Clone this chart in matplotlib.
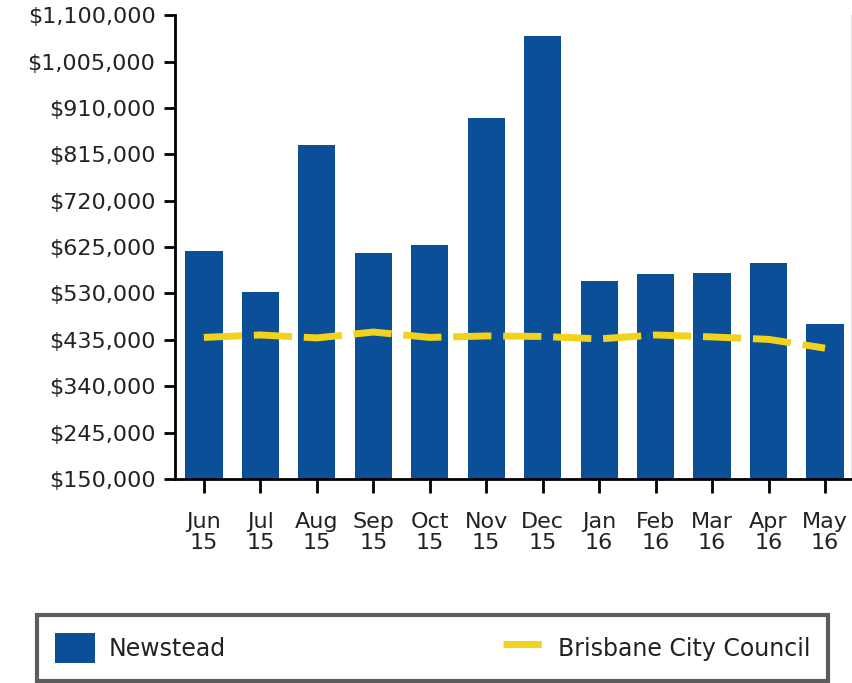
import numpy as np
import matplotlib
matplotlib.use("Agg")
import matplotlib.pyplot as plt
from matplotlib.ticker import FuncFormatter

months = ["Jun\n15", "Jul\n15", "Aug\n15", "Sep\n15", "Oct\n15", "Nov\n15",
          "Dec\n15", "Jan\n16", "Feb\n16", "Mar\n16", "Apr\n16", "May\n16"]
newstead = [617000, 533000, 834000, 613000, 630000, 890000,
            1057000, 555000, 570000, 571000, 592000, 467000]
brisbane = [440000, 445000, 439000, 451000, 440000, 443000,
            442000, 437000, 445000, 441000, 436000, 418000]
yticks = [150000, 245000, 340000, 435000, 530000, 625000,
          720000, 815000, 910000, 1005000, 1100000]

blue = "#0b4f99"
yellow = "#f3d21c"
txt = "#222222"

plt.rc('font', family='DejaVu Sans')

fig = plt.figure(figsize=(8.53, 6.83), dpi=100)
ax = fig.add_axes([0.205, 0.2987, 0.794, 0.679])

x = np.arange(len(months))
bars = ax.bar(x, newstead, width=0.66, color=blue, label="Newstead", zorder=2)
line, = ax.plot(x, brisbane, color=yellow, lw=5, dashes=(5.5, 1.7),
                solid_capstyle='butt', dash_capstyle='butt',
                label="Brisbane City Council", zorder=3)

ax.set_xlim(-0.514, 11.48)
ax.set_ylim(150000, 1100000)
ax.set_yticks(yticks)
ax.yaxis.set_major_formatter(FuncFormatter(lambda v, p: "${:,.0f}".format(v)))
ax.set_xticks(x)
ax.set_xticklabels(months, linespacing=1.05)

ax.spines["top"].set_visible(False)
ax.spines["right"].set_color("#777777")
ax.spines["right"].set_linewidth(1)
ax.spines["left"].set_linewidth(2)
ax.spines["bottom"].set_linewidth(2)
ax.tick_params(axis='y', length=8, width=2, labelsize=16, labelcolor=txt, pad=6)
ax.tick_params(axis='x', length=10, width=2, labelsize=16, labelcolor=txt, pad=14)

# legend box along the bottom edge
leg = fig.legend([bars, line], ["Newstead", "Brisbane City Council"],
                 loc="lower left", ncol=2, mode="expand",
                 bbox_to_anchor=(37/853, 2/683, 791/853, 66/683),
                 borderaxespad=0, fontsize=17, handlelength=1.7,
                 handleheight=1.6, handletextpad=0.6, fancybox=False,
                 borderpad=0.75, labelcolor=txt)
leg.get_frame().set_edgecolor("#333333")
leg.get_frame().set_linewidth(3)

fig.savefig("out.png", dpi=100)
